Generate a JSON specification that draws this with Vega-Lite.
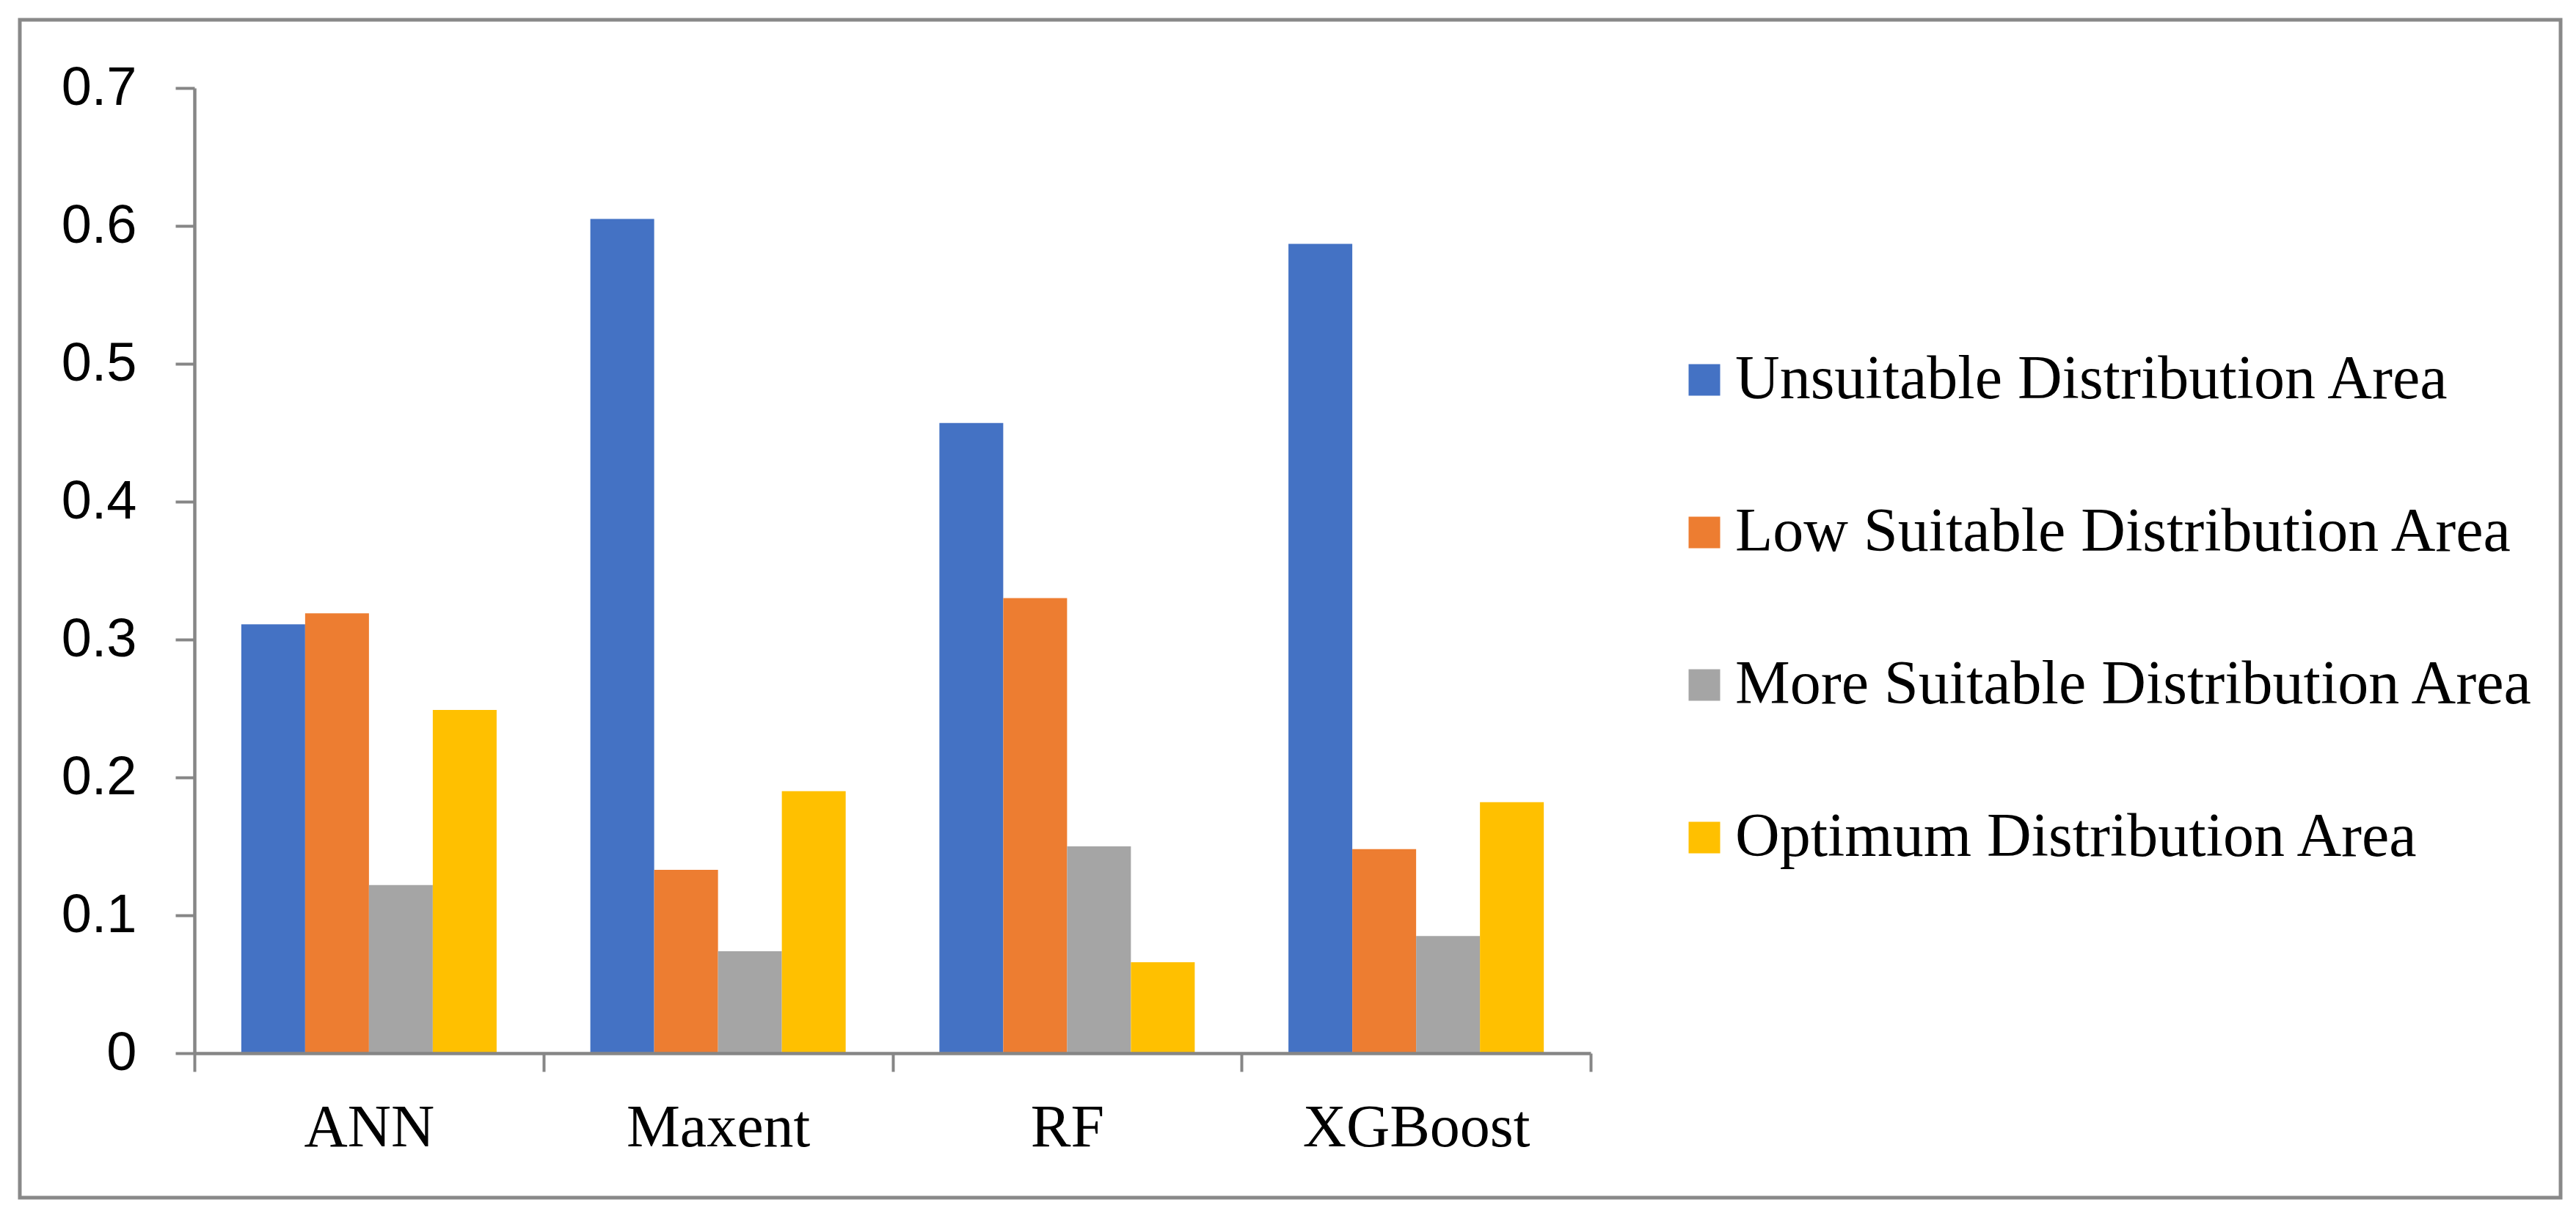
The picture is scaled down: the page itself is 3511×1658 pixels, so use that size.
{
  "$schema": "https://vega.github.io/schema/vega-lite/v6.json",
  "width": 3463,
  "height": 1606,
  "autosize": {"type": "none"},
  "padding": {"left": 27, "top": 27, "right": 21, "bottom": 25},
  "background": "white",
  "config": {"view": {"stroke": "#898989", "strokeWidth": 5}},
  "data": {
    "values": [
      {"model": "ANN", "series": "Unsuitable Distribution Area", "value": 0.311},
      {"model": "ANN", "series": "Low Suitable Distribution Area", "value": 0.319},
      {"model": "ANN", "series": "More Suitable Distribution Area", "value": 0.122},
      {"model": "ANN", "series": "Optimum Distribution Area", "value": 0.249},
      {"model": "Maxent", "series": "Unsuitable Distribution Area", "value": 0.605},
      {"model": "Maxent", "series": "Low Suitable Distribution Area", "value": 0.133},
      {"model": "Maxent", "series": "More Suitable Distribution Area", "value": 0.074},
      {"model": "Maxent", "series": "Optimum Distribution Area", "value": 0.190},
      {"model": "RF", "series": "Unsuitable Distribution Area", "value": 0.457},
      {"model": "RF", "series": "Low Suitable Distribution Area", "value": 0.330},
      {"model": "RF", "series": "More Suitable Distribution Area", "value": 0.150},
      {"model": "RF", "series": "Optimum Distribution Area", "value": 0.066},
      {"model": "XGBoost", "series": "Unsuitable Distribution Area", "value": 0.587},
      {"model": "XGBoost", "series": "Low Suitable Distribution Area", "value": 0.148},
      {"model": "XGBoost", "series": "More Suitable Distribution Area", "value": 0.085},
      {"model": "XGBoost", "series": "Optimum Distribution Area", "value": 0.182}
    ]
  },
  "mark": {"type": "bar"},
  "encoding": {
    "x": {
      "field": "model",
      "type": "nominal",
      "sort": ["ANN", "Maxent", "RF", "XGBoost"],
      "scale": {"range": [238, 2141], "paddingInner": 0, "paddingOuter": 0},
      "axis": {
        "title": null,
        "offset": -197,
        "zindex": 1,
        "labelAngle": 0,
        "tickBand": "extent",
        "domainColor": "#868686",
        "domainWidth": 4.5,
        "tickColor": "#868686",
        "tickWidth": 4,
        "tickSize": 25,
        "labelFont": "Liberation Serif",
        "labelFontSize": 82,
        "labelColor": "black",
        "labelPadding": 36,
        "labelLimit": 1000
      }
    },
    "xOffset": {
      "field": "series",
      "type": "nominal",
      "sort": ["Unsuitable Distribution Area", "Low Suitable Distribution Area", "More Suitable Distribution Area", "Optimum Distribution Area"],
      "scale": {"paddingInner": 0, "paddingOuter": 0.734}
    },
    "y": {
      "field": "value",
      "type": "quantitative",
      "scale": {"domain": [0, 0.7], "range": [1409, 93], "nice": false, "zero": true},
      "axis": {
        "title": null,
        "offset": -238,
        "grid": false,
        "values": [0, 0.1, 0.2, 0.3, 0.4, 0.5, 0.6, 0.7],
        "format": ".1~f",
        "domainColor": "#868686",
        "domainWidth": 4.5,
        "tickColor": "#868686",
        "tickWidth": 4,
        "tickSize": 26,
        "labelFont": "Liberation Sans",
        "labelFontSize": 74,
        "labelColor": "black",
        "labelPadding": 53
      }
    },
    "color": {
      "field": "series",
      "type": "nominal",
      "scale": {
        "domain": ["Unsuitable Distribution Area", "Low Suitable Distribution Area", "More Suitable Distribution Area", "Optimum Distribution Area"],
        "range": ["#4472C4", "#ED7D31", "#A5A5A5", "#FFC000"]
      },
      "legend": {
        "orient": "none",
        "legendX": 2254,
        "legendY": 449,
        "title": null,
        "symbolType": "square",
        "symbolSize": 1849,
        "symbolStrokeWidth": 0,
        "symbolOpacity": 1,
        "labelFont": "Liberation Serif",
        "labelFontSize": 84,
        "labelColor": "black",
        "labelOffset": 0,
        "labelLimit": 0,
        "rowPadding": 124,
        "padding": 0
      }
    }
  }
}
